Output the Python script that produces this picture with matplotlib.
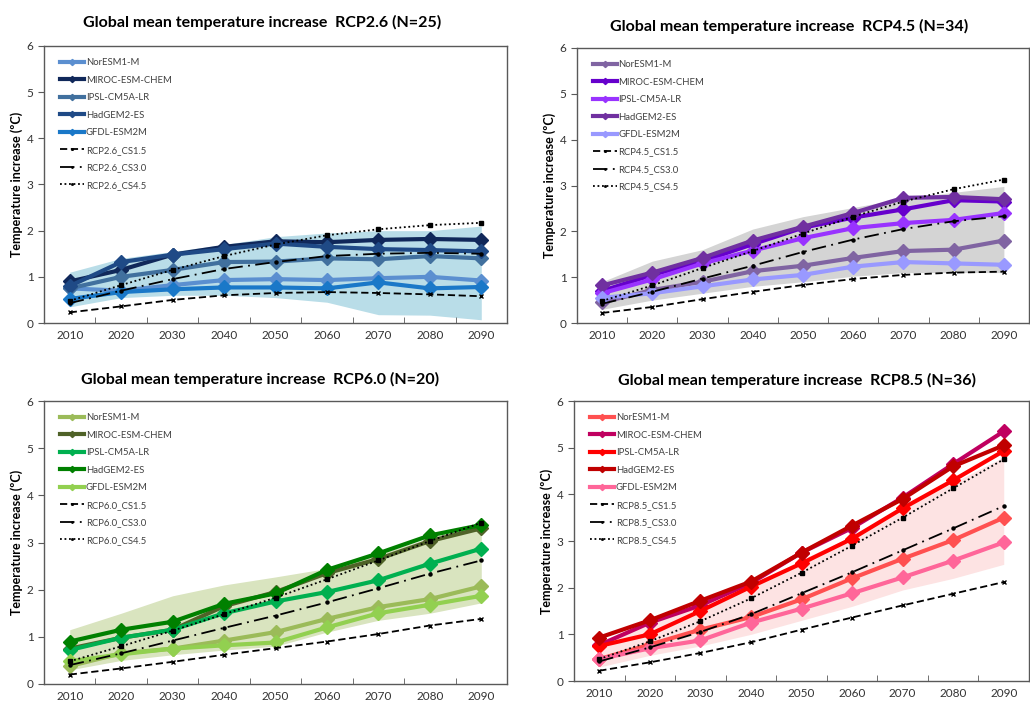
"""Global mean temperature increase per RCP scenario, four panels."""
import matplotlib
matplotlib.use("Agg")
import matplotlib.pyplot as plt
import numpy as np

plt.rcParams["font.family"] = ["Lato", "DejaVu Sans"]

years = [2010, 2020, 2030, 2040, 2050, 2060, 2070, 2080, 2090]
model_names = ["NorESM1-M", "MIROC-ESM-CHEM", "IPSL-CM5A-LR", "HadGEM2-ES", "GFDL-ESM2M"]
cs_suffix = ["_CS1.5", "_CS3.0", "_CS4.5"]

# RCP2.6
rcp26_models = [
    [0.75, 0.70, 0.82, 0.93, 0.95, 0.93, 0.97, 1.00, 0.92],
    [0.90, 1.15, 1.48, 1.65, 1.77, 1.75, 1.80, 1.82, 1.80],
    [0.75, 1.00, 1.15, 1.32, 1.33, 1.40, 1.38, 1.45, 1.40],
    [0.80, 1.32, 1.48, 1.60, 1.72, 1.65, 1.60, 1.58, 1.55],
    [0.52, 0.67, 0.73, 0.77, 0.77, 0.75, 0.88, 0.75, 0.78],
]
rcp26_cs = [
    [0.23, 0.36, 0.50, 0.60, 0.65, 0.67, 0.65, 0.62, 0.58],
    [0.43, 0.70, 0.95, 1.17, 1.32, 1.45, 1.50, 1.52, 1.50],
    [0.48, 0.82, 1.15, 1.45, 1.70, 1.90, 2.03, 2.12, 2.17],
]
rcp26_upper = [1.10, 1.40, 1.55, 1.70, 1.87, 1.95, 2.00, 2.00, 2.10]
rcp26_lower = [0.35, 0.55, 0.60, 0.60, 0.55, 0.45, 0.18, 0.17, 0.07]

# RCP4.5
rcp45_models = [
    [0.45, 0.72, 0.90, 1.13, 1.25, 1.42, 1.57, 1.60, 1.80],
    [0.70, 1.05, 1.35, 1.72, 2.08, 2.30, 2.48, 2.68, 2.65],
    [0.65, 0.95, 1.30, 1.58, 1.85, 2.07, 2.18, 2.25, 2.40],
    [0.82, 1.10, 1.42, 1.80, 2.10, 2.40, 2.73, 2.75, 2.70],
    [0.55, 0.65, 0.80, 0.95, 1.05, 1.23, 1.33, 1.30, 1.27],
]
rcp45_cs = [
    [0.22, 0.35, 0.52, 0.68, 0.83, 0.96, 1.05, 1.10, 1.12],
    [0.42, 0.68, 0.97, 1.25, 1.55, 1.82, 2.05, 2.22, 2.33],
    [0.48, 0.82, 1.20, 1.57, 1.95, 2.32, 2.65, 2.92, 3.13],
]
rcp45_upper = [0.90, 1.35, 1.60, 2.05, 2.32, 2.52, 2.72, 2.85, 2.98]
rcp45_lower = [0.30, 0.50, 0.65, 0.80, 0.90, 1.02, 1.10, 1.10, 1.10]

# RCP6.0
rcp60_models = [
    [0.38, 0.65, 0.75, 0.92, 1.10, 1.38, 1.63, 1.80, 2.07],
    [0.75, 0.98, 1.15, 1.65, 1.95, 2.35, 2.65, 3.03, 3.30],
    [0.72, 0.98, 1.15, 1.50, 1.75, 1.95, 2.20, 2.55, 2.87],
    [0.90, 1.15, 1.32, 1.70, 1.92, 2.42, 2.77, 3.15, 3.37],
    [0.48, 0.63, 0.75, 0.82, 0.88, 1.20, 1.50, 1.68, 1.87],
]
rcp60_cs = [
    [0.20, 0.33, 0.47, 0.62, 0.76, 0.90, 1.06, 1.24, 1.38],
    [0.40, 0.65, 0.92, 1.19, 1.45, 1.73, 2.03, 2.34, 2.62],
    [0.48, 0.80, 1.13, 1.48, 1.83, 2.22, 2.62, 3.03, 3.42],
]
rcp60_upper = [1.15, 1.50, 1.87, 2.10, 2.27, 2.45, 2.75, 3.10, 3.42]
rcp60_lower = [0.30, 0.50, 0.62, 0.72, 0.80, 1.10, 1.35, 1.50, 1.72]

# RCP8.5
rcp85_models = [
    [0.47, 0.78, 1.10, 1.37, 1.75, 2.20, 2.62, 3.02, 3.50],
    [0.77, 1.25, 1.62, 2.10, 2.75, 3.28, 3.93, 4.65, 5.35],
    [0.75, 1.00, 1.50, 2.02, 2.52, 3.05, 3.70, 4.30, 4.93],
    [0.93, 1.30, 1.72, 2.13, 2.75, 3.33, 3.90, 4.60, 5.05],
    [0.47, 0.70, 0.87, 1.25, 1.55, 1.88, 2.22, 2.58, 2.97],
]
rcp85_cs = [
    [0.22, 0.40, 0.60, 0.83, 1.10, 1.36, 1.62, 1.87, 2.12],
    [0.42, 0.72, 1.05, 1.43, 1.88, 2.33, 2.80, 3.27, 3.75],
    [0.47, 0.85, 1.28, 1.77, 2.32, 2.90, 3.50, 4.13, 4.75],
]
rcp85_upper = [0.85, 1.25, 1.60, 2.00, 2.60, 3.10, 3.70, 4.25, 4.80]
rcp85_lower = [0.30, 0.55, 0.75, 1.00, 1.30, 1.60, 1.95, 2.20, 2.50]

panels = [
    ("RCP2.6", 25, rcp26_models, rcp26_cs, rcp26_upper, rcp26_lower,
     ["#5b8fd0", "#10285a", "#41709e", "#1f4a86", "#1a78c8"], "#b9dde8",
     [44, 46, 507, 323], 262, 22),
    ("RCP4.5", 34, rcp45_models, rcp45_cs, rcp45_upper, rcp45_lower,
     ["#8064a2", "#6600cc", "#9933ff", "#7030a0", "#9999ff"], "#d4d4d4",
     [577, 48, 1029, 323], 789, 26),
    ("RCP6.0", 20, rcp60_models, rcp60_cs, rcp60_upper, rcp60_lower,
     ["#9bbb59", "#4f6228", "#00b050", "#008000", "#92d050"], "#d9e4bf",
     [44, 401, 507, 684], 260, 379),
    ("RCP8.5", 36, rcp85_models, rcp85_cs, rcp85_upper, rcp85_lower,
     ["#ff5050", "#c00060", "#ff0000", "#c00000", "#ff6699"], "#fde3e3",
     [574, 401, 1029, 681], 797, 380),
]

W, H = 1030, 702
fig = plt.figure(figsize=(W / 100, H / 100), dpi=100)

cs_styles = [
    dict(linestyle=(0, (4, 2)), marker="x", markersize=3.5),
    dict(linestyle=(0, (8, 3, 1, 3)), marker="o", markersize=2.2),
    dict(linestyle=(0, (1, 1.5)), marker="s", markersize=2.2),
]

for name, n, models, cs, upper, lower, colors, shade, box, tx, ty in panels:
    l, t, r, b = box
    ax = fig.add_axes([l / W, (H - b) / H, (r - l) / W, (b - t) / H])
    ax.fill_between(years, lower, upper, color=shade, linewidth=0, zorder=1)
    for label, vals, c in zip(model_names, models, colors):
        ax.plot(years, vals, color=c, linewidth=3, marker="D", markersize=7,
                label=label, zorder=3)
    for suffix, vals, st in zip(cs_suffix, cs, cs_styles):
        ax.plot(years, vals, color="black", linewidth=1.3, label=name + suffix,
                zorder=4, **st)

    ax.set_xlim(2005, 2095)
    ax.set_ylim(0, 6)
    ax.set_xticks(years)
    ax.set_xticks(np.arange(2015, 2090, 10), minor=True)
    ax.tick_params(axis="x", which="major", length=0, pad=5, labelsize=8.5,
                   labelcolor="#333333")
    ax.tick_params(axis="x", which="minor", direction="in", length=4,
                   color="#595959")
    ax.set_yticks(range(7))
    ax.tick_params(axis="y", direction="out", length=4, labelsize=8.5,
                   color="#595959", labelcolor="#333333")
    for sp in ax.spines.values():
        sp.set_color("#595959")
        sp.set_linewidth(1.0)
    ax.set_ylabel("Temperature increase (ºC)", fontsize=9, fontweight="bold",
                  labelpad=3)

    leg = ax.legend(loc="upper left", bbox_to_anchor=(0.02, 0.98), frameon=False,
                    fontsize=6.8, handlelength=2.6, labelspacing=0.9,
                    markerscale=0.45, handletextpad=0.15, borderaxespad=0.3)
    for txt in leg.get_texts():
        txt.set_color("#404040")

    fig.text(tx / W, 1 - ty / H,
             f"Global mean temperature increase  {name} (N={n})",
             ha="center", va="center", fontsize=11.5, fontweight="bold")

fig.savefig("out.png", dpi=100)
plt.close(fig)
